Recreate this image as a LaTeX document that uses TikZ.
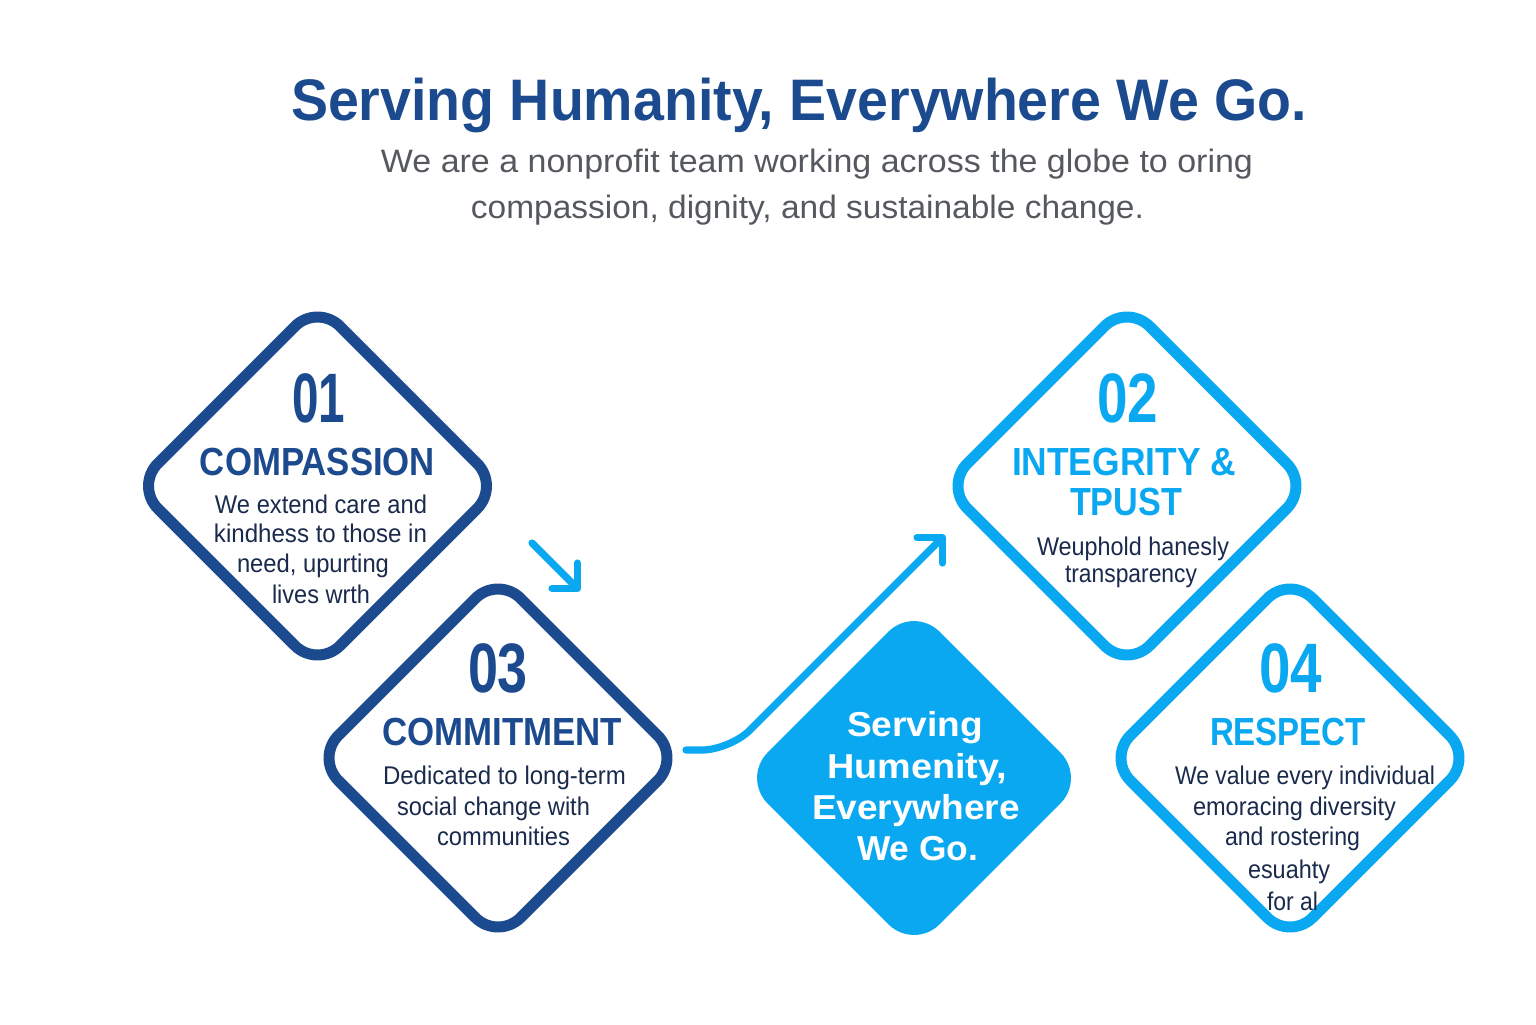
\documentclass[tikz,border=0pt]{standalone}
\usepackage{fontspec}
\setmainfont{Liberation Sans}
\usepackage{graphicx}
\usetikzlibrary{shapes.geometric,arrows.meta}
\definecolor{dblue}{HTML}{1C4A8E}
\definecolor{lblue}{HTML}{0BA8F2}
\definecolor{navy}{HTML}{1A2A4C}
\definecolor{sgray}{HTML}{55595F}
\newdimen\pxu \pxu=0.5pt
\newcommand\fw[2]{\resizebox{#1\pxu}{\height}{#2}}
\newcommand\tl[6]{\node[#5] (#1) at (#2,#3) {\fw{#4}{#6}};}
\begin{document}
\begin{tikzpicture}[x=0.5pt,y=-0.5pt,
  txt/.style={anchor=base,inner sep=0pt,outer sep=0pt},
  ttl/.style={txt,text=dblue,font=\bfseries\fontsize{29.3pt}{30pt}\selectfont},
  sub/.style={txt,text=sgray,font=\fontsize{16.2pt}{17pt}\selectfont},
  numd/.style={txt,text=dblue,font=\bfseries\fontsize{35pt}{36pt}\selectfont},
  numl/.style={numd,text=lblue},
  headd/.style={txt,text=dblue,font=\bfseries\fontsize{19.6pt}{20pt}\selectfont},
  headl/.style={headd,text=lblue},
  body/.style={txt,text=navy,font=\fontsize{12.8pt}{13pt}\selectfont},
  ctr/.style={txt,text=white,font=\bfseries\fontsize{17.3pt}{18pt}\selectfont},
  card/.style={diamond,draw,line width=5.5pt,rounded corners=16pt,
    minimum width=184.5pt,minimum height=184.5pt,inner sep=0pt,fill=white},
  hub/.style={diamond,fill=lblue,rounded corners=18pt,
    minimum width=172pt,minimum height=172pt,inner sep=0pt},
  flow/.style={draw=lblue,line width=3.6pt,line cap=round,line join=round,
    -{Straight Barb[length=9pt,width=18pt,line cap=round,line join=round]}},
]
\useasboundingbox (0,0) rectangle (1536,1024);

% title
\tl{t1}{799}{120}{1016}{ttl}{Serving Humanity, Everywhere We Go.}
\tl{s1}{817}{172}{872}{sub}{We are a nonprofit team working across the globe to oring}
\tl{s2}{807.5}{218}{673}{sub}{compassion, dignity, and sustainable change.}

% cards
\node[card,draw=dblue] (d1) at (317.5,486) {};
\node[card,draw=dblue] (d3) at (498,758) {};
\node[card,draw=lblue] (d2) at (1127,486) {};
\node[card,draw=lblue] (d4) at (1290,758) {};
\node[hub] (hub) at (914,778) {};

% connectors
\coordinate (a1s) at (532,543);
\coordinate (a1e) at (580,591);
\draw[flow] (a1s) -- (a1e);
\coordinate (a2s) at (686,750);
\coordinate (a2e) at (945,535);
\draw[flow,rounded corners=14pt] (a2s) -- (730,750) -- (a2e);

% card 01
\tl{n1}{318.5}{422}{53}{numd}{01}
\tl{h1}{317.5}{475}{235}{headd}{COMPASSION}
\tl{b1a}{321}{513}{212}{body}{We extend care and}
\tl{b1b}{320.5}{542}{213}{body}{kindhess to those in}
\tl{b1c}{313}{572}{152}{body}{need, upurting}
\tl{b1d}{321}{603}{98}{body}{lives wrth}

% card 03
\tl{n3}{498}{692}{60}{numd}{03}
\tl{h3}{502}{745}{240}{headd}{COMMITMENT}
\tl{b3a}{504.5}{784}{243}{body}{Dedicated to long-term}
\tl{b3b}{493.5}{815}{193}{body}{social change with}
\tl{b3c}{503.5}{845}{133}{body}{communities}

% card 02
\tl{n2}{1127.5}{422}{61}{numl}{02}
\tl{h2a}{1124}{475}{224}{headl}{INTEGRITY \&}
\tl{h2b}{1126}{515}{112}{headl}{TPUST}
\tl{b2a}{1133}{555}{192}{body}{Weuphold hanesly}
\tl{b2b}{1131}{582}{132}{body}{transparency}

% card 04
\tl{n4}{1290.5}{692}{63}{numl}{04}
\tl{h4}{1288}{745}{156}{headl}{RESPECT}
\tl{b4a}{1305}{784}{260}{body}{We value every individual}
\tl{b4b}{1294.5}{815}{203}{body}{emoracing diversity}
\tl{b4c}{1292.5}{845}{135}{body}{and rostering}
\tl{b4d}{1289}{878}{82}{body}{esuahty}
\tl{b4e}{1292.5}{910}{51}{body}{for al}

% hub text
\tl{c1}{915}{736}{136}{ctr}{Serving}
\tl{c2}{917}{778}{180}{ctr}{Humenity,}
\tl{c3}{916}{819}{208}{ctr}{Everywhere}
\tl{c4}{917.5}{860}{121}{ctr}{We Go.}
\end{tikzpicture}
\end{document}
